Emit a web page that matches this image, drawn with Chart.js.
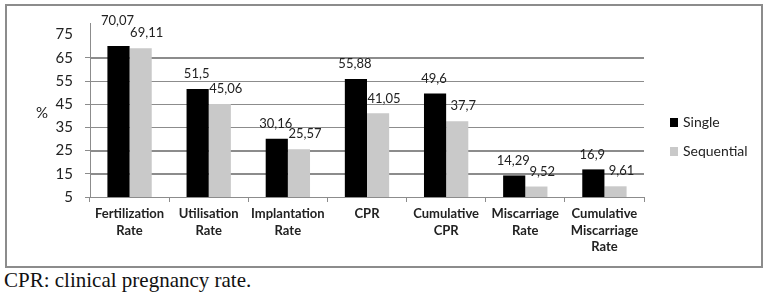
<!DOCTYPE html>
<html>
<head>
<meta charset="utf-8">
<script src="https://cdn.jsdelivr.net/npm/chart.js@4/dist/chart.umd.min.js"></script>
<style>
  body { margin: 0; background: #fff; }
  #chart { display: block; position: relative; z-index: 1; }
  #frame { position: absolute; left: 5px; top: 4px; width: 758px; height: 264px; border: 2px solid #8c8c8c; box-sizing: border-box; z-index: 0; }
  #caption { position: absolute; left: 4px; top: 268px; font-family: "Liberation Serif", "DejaVu Serif", serif; font-size: 21px; color: #111; white-space: nowrap; }
</style>
</head>
<body>
<canvas id="chart" width="771" height="268"></canvas>
<div id="frame"></div>
<div id="caption">CPR: clinical pregnancy rate.</div>
<script>
// categories (multi-line labels)
const categories = [
    ["Fertilization", "Rate"],
    ["Utilisation", "Rate"],
    ["Implantation", "Rate"],
    ["CPR"],
    ["Cumulative", "CPR"],
    ["Miscarriage", "Rate"],
    ["Cumulative", "Miscarriage", "Rate"]
];
const singleValues = [70.07, 51.5, 30.16, 55.88, 49.6, 14.29, 16.9];
const sequentialValues = [69.11, 45.06, 25.57, 41.05, 37.7, 9.52, 9.61];
const singleLabels = ["70,07", "51,5", "30,16", "55,88", "49,6", "14,29", "16,9"];
const sequentialLabels = ["69,11", "45,06", "25,57", "41,05", "37,7", "9,52", "9,61"];
const seriesNames = ["Single", "Sequential"];
const yTicks = [5, 15, 25, 35, 45, 55, 65, 75];
const yMin = 5, yMax = 80;

const FONT = "Lato, 'Open Sans', sans-serif";
const GRID = "#8c8c8c";
const NONE = "rgba(0,0,0,0)";

// gridlines as 1px rects, drawn before the bars
const gridLines = {
    id: "gridLines",
    beforeDatasetsDraw(chart) {
        const ctx = chart.ctx;
        const area = chart.chartArea;
        const yScale = chart.scales.y;
        ctx.save();
        ctx.fillStyle = GRID;
        yTicks.forEach(v => {
            if (v <= yMin || v >= 75) return;
            const py = Math.round(yScale.getPixelForValue(v));
            ctx.fillRect(area.left, py, area.right - area.left, 1);
        });
        ctx.restore();
    }
};

// value labels, "%" and legend
const overlay = {
    id: "overlay",
    afterDraw(chart) {
        const ctx = chart.ctx;
        const area = chart.chartArea;
        ctx.save();
        ctx.font = "13px " + FONT;
        ctx.fillStyle = "#222";
        ctx.textAlign = "center";
        ctx.textBaseline = "middle";
        chart.data.datasets.forEach((ds, di) => {
            chart.getDatasetMeta(di).data.forEach((bar, i) => {
                const dx = di === 0 ? -1 : 6;
                const dy = (di === 0 && i === 0) ? 25 : 15;
                ctx.fillText(ds.valueText[i], bar.x + dx, bar.y - dy);
            });
        });

        ctx.font = "15px " + FONT;
        ctx.fillText("%", 42, 113);

        ctx.textAlign = "left";
        ctx.font = "14px " + FONT;
        chart.data.datasets.forEach((ds, di) => {
            const y = 122 + di * 29;
            ctx.fillStyle = ds.backgroundColor;
            ctx.fillRect(area.right + 26, y - 4, 8, 9);
            ctx.fillStyle = "#222";
            ctx.fillText(ds.label, area.right + 39, y);
        });
        ctx.restore();
    }
};

new Chart(document.getElementById("chart"), {
    type: "bar",
    data: {
        labels: categories,
        datasets: [
            {
                label: seriesNames[0],
                data: singleValues,
                valueText: singleLabels,
                backgroundColor: "#000000",
                categoryPercentage: 0.56,
                barPercentage: 1.0
            },
            {
                label: seriesNames[1],
                data: sequentialValues,
                valueText: sequentialLabels,
                backgroundColor: "#c9c9c9",
                categoryPercentage: 0.56,
                barPercentage: 1.0
            }
        ]
    },
    options: {
        responsive: false,
        animation: false,
        layout: { padding: { left: 0, right: 127, top: 23, bottom: 0 } },
        plugins: {
            legend: { display: false },
            tooltip: { enabled: false }
        },
        scales: {
            x: {
                afterFit(scale) { scale.height = 71; },
                grid: {
                    drawOnChartArea: false,
                    drawTicks: true,
                    tickLength: 5,
                    color: GRID
                },
                border: { display: true, color: GRID, width: 1 },
                ticks: {
                    maxRotation: 0,
                    autoSkip: false,
                    padding: 3,
                    color: "#222",
                    font: { family: FONT, size: 13, weight: "bold", lineHeight: 1.3 }
                }
            },
            y: {
                min: yMin,
                max: yMax,
                afterFit(scale) { scale.width = 90; },
                afterBuildTicks(scale) {
                    scale.ticks = yTicks.map(v => ({ value: v }));
                },
                ticks: {
                    padding: 12,
                    color: "#222",
                    font: { family: FONT, size: 15 }
                },
                grid: {
                    tickLength: 5,
                    color: (c) => (c.tick && c.tick.value >= 75 ? NONE : GRID),
                    tickColor: (c) => (c.tick && c.tick.value >= 75 ? NONE : GRID)
                },
                border: { display: true, color: GRID, width: 1 }
            }
        }
    },
    plugins: [gridLines, overlay]
});
</script>
</body>
</html>
